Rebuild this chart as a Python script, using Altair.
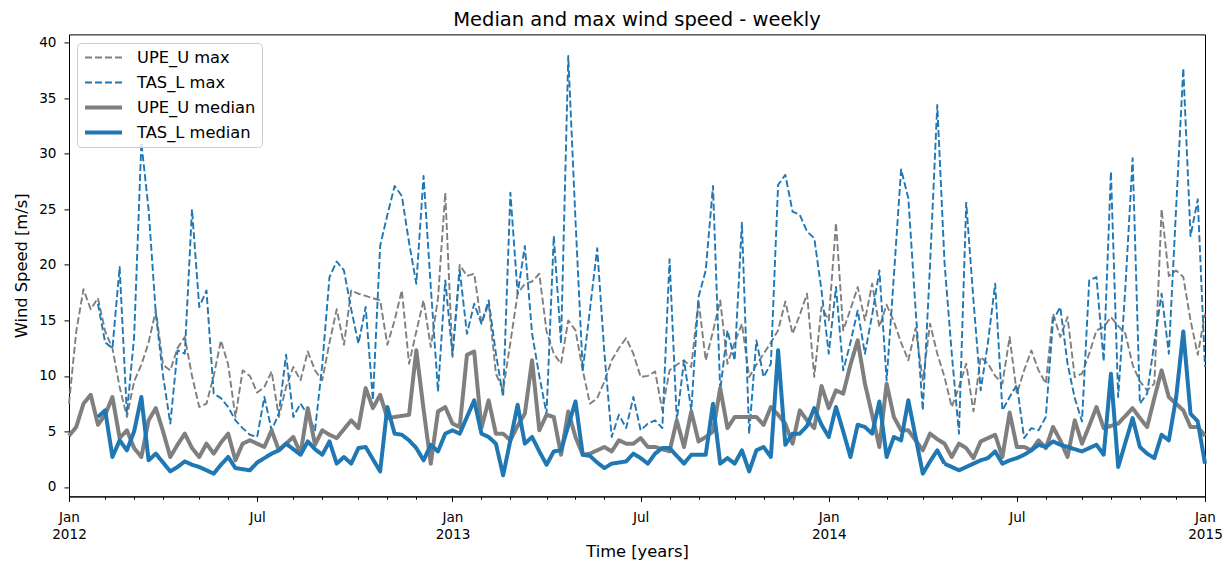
import math
import datetime
import altair as alt
import pandas as pd

# ---------------- data (weekly periods, W-SUN, starting 2012-01-01) ----------------
start = datetime.date(2012, 1, 1)

upe_max = [
    7.5, 14, 17.8, 16, 17, 14, 12.5, 9, 6.3, 9.5,
    11, 13, 15.9, 11, 10.5, 12.5, 13.5, 10, 7.2, 7.5,
    10, 13.2, 11, 6.3, 10.5, 10, 8.5, 9, 10.4, 6.3,
    9, 10.8, 9.6, 12.2, 10.5, 9.6, 13, 16, 12.8, 17.7,
    17.4, 17.2, 17, 16.8, 12.8, 15, 17.7, 11.1, 14, 16.8,
    12.6, 17, 26.5, 11.7, 20, 19, 19.2, 14.7, 16.5, 10.2,
    8.7, 13, 17.4, 18.3, 18.5, 19.2, 14, 12, 11.1, 15,
    14.1, 10.5, 7.5, 8, 9.5, 11.4, 12.5, 13.4, 12, 9.9,
    10, 10.4, 6.9, 10.5, 11, 11.4, 10.8, 16.8, 11.4, 14,
    16.8, 11.1, 13, 14.7, 9.9, 11, 12, 13, 14.1, 16.7,
    13.8, 15.5, 17.4, 9.9, 16.2, 15, 23.8, 14.1, 16, 18,
    15, 18.3, 14.4, 16.4, 14.9, 13, 11.4, 14.3, 9.6, 14.7,
    12, 9.9, 7.2, 9, 11.1, 6.8, 11.7, 11.1, 10, 9.3,
    13.5, 8.4, 10.5, 12.3, 10.5, 9.3, 15.6, 13.5, 15.3, 9.9,
    10.2, 12, 14.1, 14.4, 15.3, 14.5, 13.8, 11, 9.5, 8.7,
    9.3, 25, 19, 19.5, 18.9, 15, 11.9, 15.6,
]

tas_max = [None, None, None, None] + [
    16.5, 13, 12.5, 19.8, 6.6, 13.5,
    31, 25, 15.6, 10, 5.7, 12.3, 12, 25, 16.2, 17.7,
    8.4, 8, 7.2, 6, 5.3, 4.7, 4.5, 8.1, 5.1, 6.6,
    11.9, 6.3, 7.5, 6.5, 5.1, 11, 18.9, 20.3, 19.5, 16,
    12.9, 16.2, 7.8, 21.7, 24.5, 27.1, 26.2, 22, 18.3, 28,
    18, 8.6, 18.6, 11.9, 19.5, 13.8, 16.5, 14.7, 16.8, 12,
    8.1, 26.5, 17.4, 21.7, 13.8, 10, 6.6, 22.6, 12.9, 38.8,
    24, 10.5, 16, 21.5, 12, 4.5, 6.5, 5.3, 8.1, 5.1,
    5.7, 6, 5.3, 20.5, 6, 11.4, 6.9, 17.1, 19.5, 27.1,
    8.7, 14.1, 11.4, 23.8, 4.8, 13.2, 9.9, 11.1, 27.2, 28.1,
    24.8, 24.5, 23, 22.4, 17.7, 12, 18, 10.5, 13, 15.9,
    12, 15.5, 19.5, 9.6, 19, 28.6, 26, 16, 6.9, 20,
    34.4, 20.2, 12, 4.8, 25.6, 16.8, 8.7, 13, 18.3, 6.9,
    8.1, 9.2, 4.4, 5.3, 5.1, 6.3, 15, 16.2, 11.1, 8,
    5.9, 18.6, 18.9, 11.3, 28.4, 8.1, 18, 29.6, 7.5, 8.4,
    13, 17.4, 12, 25, 37.7, 22.6, 25.9, 10.8,
]

upe_med = [
    4.6, 5.4, 7.5, 8.3, 5.6, 6.5, 8.1, 4.4, 5.1, 3.5,
    2.7, 6, 7.1, 5, 2.7, 3.8, 4.8, 3.5, 2.7, 3.9,
    3, 4, 4.8, 2.4, 3.9, 4.2, 3.9, 3.6, 5.1, 3.3,
    3.9, 4.5, 3, 7.1, 3.8, 5.1, 4.7, 4.4, 5.2, 6,
    5.3, 8.9, 7.1, 8.3, 6.2, 6.3, 6.4, 6.5, 12.3, 7,
    2.1, 6.8, 7.2, 5.7, 5.4, 11.9, 12.2, 5.3, 7.8, 4.8,
    4.8, 4.2, 5.5, 6.6, 11.4, 5.1, 6.5, 6.3, 2.9, 6.8,
    4.5, 2.9, 3, 3.3, 3.6, 3.2, 4.2, 3.9, 3.9, 4.4,
    3.6, 3.6, 3.4, 3.2, 6, 3.6, 6.8, 4.1, 4.5, 5,
    8.9, 5.3, 6.3, 6.3, 6.3, 6.3, 5.6, 7.2, 6.5, 5.7,
    3.9, 6.9, 6, 5.3, 9.1, 7.1, 8.7, 8.4, 11, 13.2,
    9.3, 6.5, 3.6, 9.3, 6.3, 5.1, 5.1, 4.2, 3.3, 4.8,
    4.3, 3.9, 2.7, 3.9, 3.5, 2.6, 4.1, 4.4, 4.7, 2.7,
    6.7, 3.6, 3.6, 3.3, 4.2, 3.5, 5.4, 4.2, 2.7, 6,
    3.9, 5.5, 7.2, 5.3, 5.5, 5.7, 6.4, 7.1, 6.2, 5.4,
    8, 10.5, 8.1, 7.5, 6.9, 5.4, 5.4, 4.6,
]

tas_med = [None, None, None, None] + [
    6.3, 6.9, 2.7, 4.2, 3.3, 5,
    8.1, 2.4, 3, 2.2, 1.4, 1.8, 2.3, 2, 1.8, 1.5,
    1.2, 2, 2.7, 1.7, 1.6, 1.5, 2.2, 2.6, 3, 3.3,
    3.9, 3.4, 2.9, 4.1, 3.4, 2.9, 4.1, 2.1, 2.7, 2.1,
    3.5, 3.6, 2.5, 1.4, 7.2, 4.8, 4.7, 4.2, 3.5, 2.4,
    3.8, 3.2, 4.8, 5.1, 4.8, 6.3, 7.8, 4.8, 4.5, 3.9,
    1.05, 4.2, 7.4, 3.9, 4.5, 3.2, 2, 3.2, 3.3, 5.5,
    7.7, 2.9, 2.8, 2.2, 1.7, 2.1, 2.2, 2.3, 3, 2.6,
    2.1, 3, 3.5, 3.5, 2.8, 2.1, 2.9, 2.9, 2.9, 7.5,
    2.1, 2.6, 2.1, 3.3, 1.4, 3.3, 3.6, 2.7, 12.3, 3.8,
    4.8, 4.8, 5.5, 7.1, 5.6, 4.5, 7.2, 5, 2.7, 5.6,
    5.4, 4.8, 7.7, 2.7, 4.5, 4.2, 7.8, 4.5, 1.2, 2.3,
    3.3, 2.1, 1.8, 1.5, 1.8, 2.1, 2.4, 2.6, 3.2, 2.1,
    2.4, 2.6, 2.9, 3.3, 3.8, 3.6, 4.1, 3.8, 3.6, 3.4,
    3.2, 3.5, 3.8, 2.9, 10.2, 1.8, 4, 6.2, 3.6, 3,
    2.6, 4.7, 4.2, 8, 14, 6.6, 5.9, 2.1,
]

series_names = ["UPE_U max", "TAS_L max", "UPE_U median", "TAS_L median"]
series_values = [upe_max, tas_max, upe_med, tas_med]
series_colors = ["#7f7f7f", "#1f77b4", "#7f7f7f", "#1f77b4"]
series_dash = [[7, 3], [7, 3], [1, 0], [1, 0]]
series_width = [1.9, 1.9, 4, 4]

y_ticks = [0, 5, 10, 15, 20, 25, 30, 35, 40]

rows = []
for name, vals in zip(series_names, series_values):
    for i, v in enumerate(vals):
        if v is not None:
            rows.append({"week": i, "series": name, "speed": v})
df = pd.DataFrame(rows)
n_last = max(len(v) for v in series_values) - 1

# ---------------- period-based time axis (like pandas weekly plots) ----------------
def period_index(d):
    return math.ceil((d - start).days / 7)

month_starts = [datetime.date(y, m, 1) for y in (2012, 2013, 2014) for m in range(1, 13)]
month_starts.append(datetime.date(2015, 1, 1))
minor_ticks = [period_index(d) for d in month_starts]
major_dates = [d for d in month_starts if d.month in (1, 7)]
major_ticks = [period_index(d) for d in major_dates]


def js_label(d):
    if d.month == 1:
        return "['Jan', '%d']" % d.year
    return "'Jul'"


label_expr = "''"
for t, d in reversed(list(zip(major_ticks, major_dates))):
    label_expr = "datum.value == %d ? %s : (%s)" % (t, js_label(d), label_expr)

major_test = "indexof([%s], datum.value) >= 0" % ",".join(str(t) for t in major_ticks)

legend = alt.Legend(
    title=None,
    orient="none",
    legendX=8,
    legendY=8.6,
    symbolType="stroke",
    symbolSize=1369,
    clipHeight=17,
    labelFont="DejaVu Sans",
    labelFontSize=16.3,
    labelColor="black",
    labelOffset=13,
    fillColor="rgba(255,255,255,0.8)",
    strokeColor="#cccccc",
    cornerRadius=4,
    padding=6,
    rowPadding=8,
)

base = alt.Chart(df).mark_line(strokeJoin="round").encode(
    x=alt.X(
        "week:Q",
        scale=alt.Scale(domain=[0, n_last], nice=False, zero=False),
        axis=alt.Axis(
            values=minor_ticks,
            labelExpr=label_expr,
            tickSize={"condition": {"test": major_test, "value": 5}, "value": 2.8},
            labelPadding=9,
            labelLineHeight=17,
            labelOverlap=False,
            labelFlush=False,
            labelBound=False,
            titlePadding=2,
        ),
        title="Time [years]",
    ),
    y=alt.Y(
        "speed:Q",
        scale=alt.Scale(domain=[-0.85, 40.75], nice=False, zero=False),
        axis=alt.Axis(values=y_ticks, tickSize=5, labelPadding=8, titlePadding=9),
        title="Wind Speed [m/s]",
    ),
    color=alt.Color("series:N", scale=alt.Scale(domain=series_names, range=series_colors), legend=legend),
    strokeDash=alt.StrokeDash(
        "series:N", scale=alt.Scale(type="ordinal", domain=series_names, range=series_dash), legend=legend
    ),
    strokeWidth=alt.StrokeWidth(
        "series:N", scale=alt.Scale(type="ordinal", domain=series_names, range=series_width), legend=legend
    ),
)

layers = [base.transform_filter(alt.datum.series == s) for s in series_names]

chart = (
    alt.layer(*layers)
    .properties(
        width=1136,
        height=462,
        title=alt.Title("Median and max wind speed - weekly"),
        autosize=alt.AutoSizeParams(type="none"),
        padding={"left": 61, "top": 26.4, "right": 17, "bottom": 63.6},
    )
    .configure_view(stroke="black", strokeWidth=1)
    .configure_axis(
        grid=False,
        domainColor="black",
        domainWidth=1,
        tickColor="black",
        tickWidth=1,
        labelColor="black",
        titleColor="black",
        labelFont="DejaVu Sans",
        titleFont="DejaVu Sans",
        labelFontSize=13.6,
        titleFontSize=16.3,
        titleFontWeight="normal",
    )
    .configure_title(
        font="DejaVu Sans",
        fontSize=19.5,
        fontWeight="normal",
        color="black",
        anchor="middle",
        offset=4,
    )
)

chart.save("out.html", embed_options={"renderer": "svg", "actions": False})
